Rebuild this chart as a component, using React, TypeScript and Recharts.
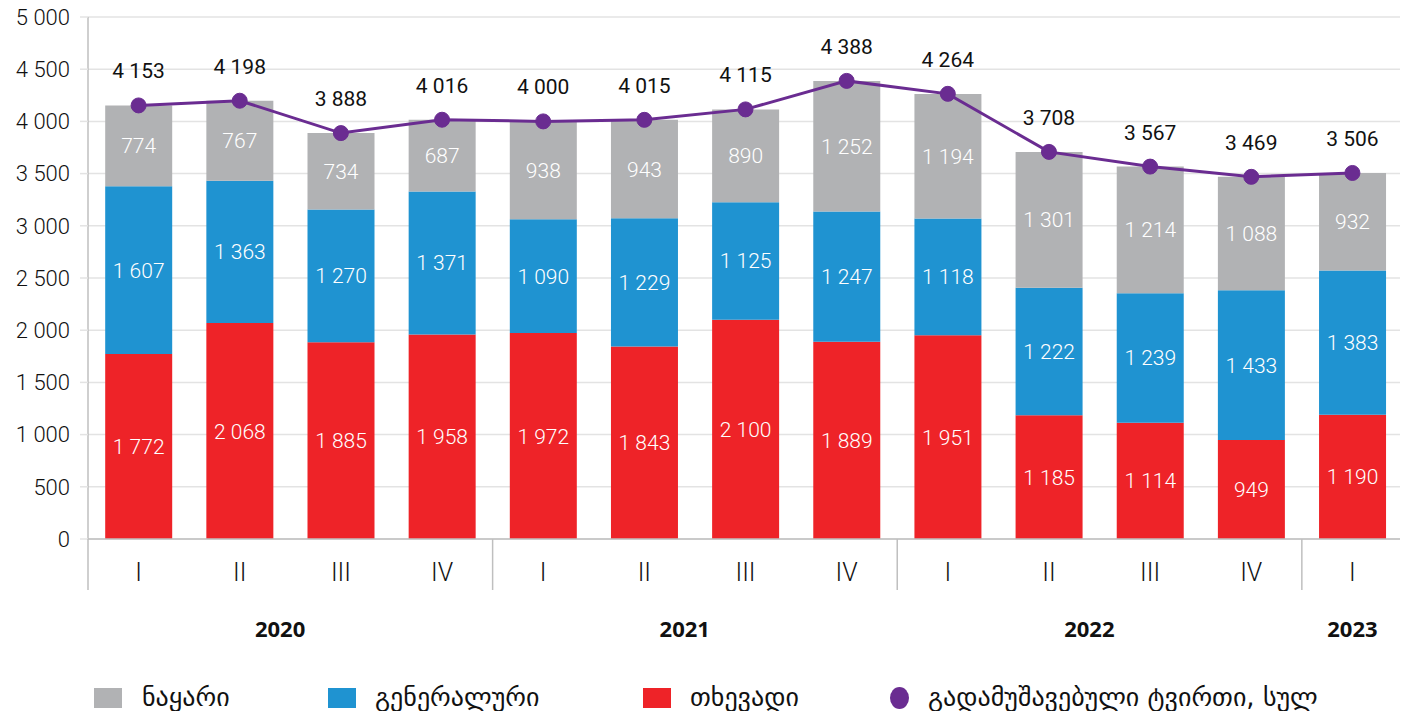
import React from 'react';
import { ComposedChart, Bar, Line, XAxis, YAxis, CartesianGrid, LabelList } from 'recharts';

const quarters = ['I', 'II', 'III', 'IV', 'I', 'II', 'III', 'IV', 'I', 'II', 'III', 'IV', 'I'];
const years = ['2020', '2020', '2020', '2020', '2021', '2021', '2021', '2021', '2022', '2022', '2022', '2022', '2023'];
const bulk = [774, 767, 734, 687, 938, 943, 890, 1252, 1194, 1301, 1214, 1088, 932];
const general = [1607, 1363, 1270, 1371, 1090, 1229, 1125, 1247, 1118, 1222, 1239, 1433, 1383];
const liquid = [1772, 2068, 1885, 1958, 1972, 1843, 2100, 1889, 1951, 1185, 1114, 949, 1190];
const total = [4153, 4198, 3888, 4016, 4000, 4015, 4115, 4388, 4264, 3708, 3567, 3469, 3506];
const yTicks = [0, 500, 1000, 1500, 2000, 2500, 3000, 3500, 4000, 4500, 5000];

const seriesNames = {
  bulk: 'ნაყარი',
  general: 'გენერალური',
  liquid: 'თხევადი',
  total: 'გადამუშავებული ტვირთი, სულ',
};

const colors = {
  bulk: '#B1B2B4',
  general: '#1F93D1',
  liquid: '#EE2328',
  total: '#6A2C91',
};

const data = quarters.map((q, i) => ({
  q,
  year: years[i],
  bulk: bulk[i],
  general: general[i],
  liquid: liquid[i],
  total: total[i],
}));

const fmt = (v: any) => String(v).replace(/\B(?=(\d{3})+(?!\d))/g, ' ');

const NUM_FONT = 'Roboto, "Noto Sans", sans-serif';
const GEO_FONT = '"DejaVu Sans", sans-serif';

const XTick = (props: any) => {
  const { x, y, payload, width, visibleTicksCount } = props;
  const i = payload.index;
  const n = visibleTicksCount || quarters.length;
  const band = (width || 1315) / n;
  const half = band / 2;
  const yr = years[i];
  const isFirst = i === 0 || years[i - 1] !== yr;
  const isLast = i === years.length - 1;
  let groupSize = 0;
  for (let k = i; k < years.length && years[k] === yr; k++) groupSize++;
  return (
    <g>
      <text x={x} y={y + 33} textAnchor="middle" dominantBaseline="central" fontSize={25} fontWeight={300} fontFamily={NUM_FONT} fill="#111">
        {payload.value}
      </text>
      {isFirst && <line x1={x - half} x2={x - half} y1={y} y2={y + 51} stroke="#BFBFBF" strokeWidth={1.5} />}
      {isLast && <line x1={x + half} x2={x + half} y1={y} y2={y + 51} stroke="#BFBFBF" strokeWidth={1.5} />}
      {isFirst && (
        <text x={x - half + (groupSize * band) / 2 - (groupSize - 1) * 3.4} y={y + 89} textAnchor="middle" dominantBaseline="central" fontSize={22} fontWeight={700} fontFamily='"Open Sans", sans-serif' fill="#111">
          {yr}
        </text>
      )}
    </g>
  );
};

const legendItems = [
  { key: 'bulk', left: 86, textLeft: 134, type: 'square' },
  { key: 'general', left: 320, textLeft: 367, type: 'square' },
  { key: 'liquid', left: 635, textLeft: 682, type: 'square' },
  { key: 'total', left: 881, textLeft: 920, type: 'circle' },
];

export default function App() {
  return (
    <div style={{ position: 'relative', width: 1400, height: 703 }}>
      <style>{'svg.recharts-surface{overflow:visible}'}</style>
      <ComposedChart
        width={1400}
        height={640}
        data={data}
        margin={{ top: 9, right: 5, bottom: 0, left: 0 }}
        barCategoryGap="17%"
      >
        <CartesianGrid vertical={false} stroke="#E3E3E3" strokeWidth={1.5} />
        <YAxis
          width={80}
          domain={[0, 5000]}
          ticks={yTicks}
          tickFormatter={fmt}
          axisLine={{ stroke: '#BFBFBF', strokeWidth: 1.5 }}
          tickLine={{ stroke: '#E3E3E3', strokeWidth: 1.5 }}
          tickSize={8}
          tickMargin={10}
          tick={{ fontSize: 22, fill: '#111', fontFamily: NUM_FONT, fontWeight: 300 }}
          interval={0}
        />
        <XAxis
          dataKey="q"
          height={109}
          interval={0}
          tickLine={false}
          tickSize={0}
          tickMargin={0}
          axisLine={{ stroke: '#BFBFBF', strokeWidth: 1.5 }}
          tick={<XTick />}
        />
        <Bar dataKey="liquid" stackId="a" fill={colors.liquid} isAnimationActive={false} name={seriesNames.liquid}>
          <LabelList dataKey="liquid" position="center" fill="#fff" fontSize={21} fontWeight={300} fontFamily={NUM_FONT} formatter={fmt} />
        </Bar>
        <Bar dataKey="general" stackId="a" fill={colors.general} isAnimationActive={false} name={seriesNames.general}>
          <LabelList dataKey="general" position="center" fill="#fff" fontSize={21} fontWeight={300} fontFamily={NUM_FONT} formatter={fmt} />
        </Bar>
        <Bar dataKey="bulk" stackId="a" fill={colors.bulk} isAnimationActive={false} name={seriesNames.bulk}>
          <LabelList dataKey="bulk" position="center" fill="#fff" fontSize={21} fontWeight={300} fontFamily={NUM_FONT} formatter={fmt} />
        </Bar>
        <Line
          dataKey="total"
          stroke={colors.total}
          strokeWidth={3}
          dot={{ r: 7.5, fill: colors.total, stroke: colors.total, strokeWidth: 1 }}
          isAnimationActive={false}
          name={seriesNames.total}
        >
          <LabelList dataKey="total" position="top" offset={27} fill="#111" fontSize={21} fontFamily={NUM_FONT} formatter={fmt} />
        </Line>
      </ComposedChart>
      {legendItems.map((it) => (
        <React.Fragment key={it.key}>
          {it.type === 'square' ? (
            <div style={{ position: 'absolute', left: it.left, top: 680, width: 28, height: 20, background: (colors as any)[it.key] }} />
          ) : (
            <div style={{ position: 'absolute', left: it.left + 1, top: 679, width: 19, height: 22, borderRadius: '50%', background: (colors as any)[it.key] }} />
          )}
          <div style={{ position: 'absolute', left: it.textLeft, top: 672, height: 34, lineHeight: '34px', fontSize: 26, fontFamily: GEO_FONT, color: '#111', whiteSpace: 'nowrap' }}>
            {(seriesNames as any)[it.key]}
          </div>
        </React.Fragment>
      ))}
    </div>
  );
}
